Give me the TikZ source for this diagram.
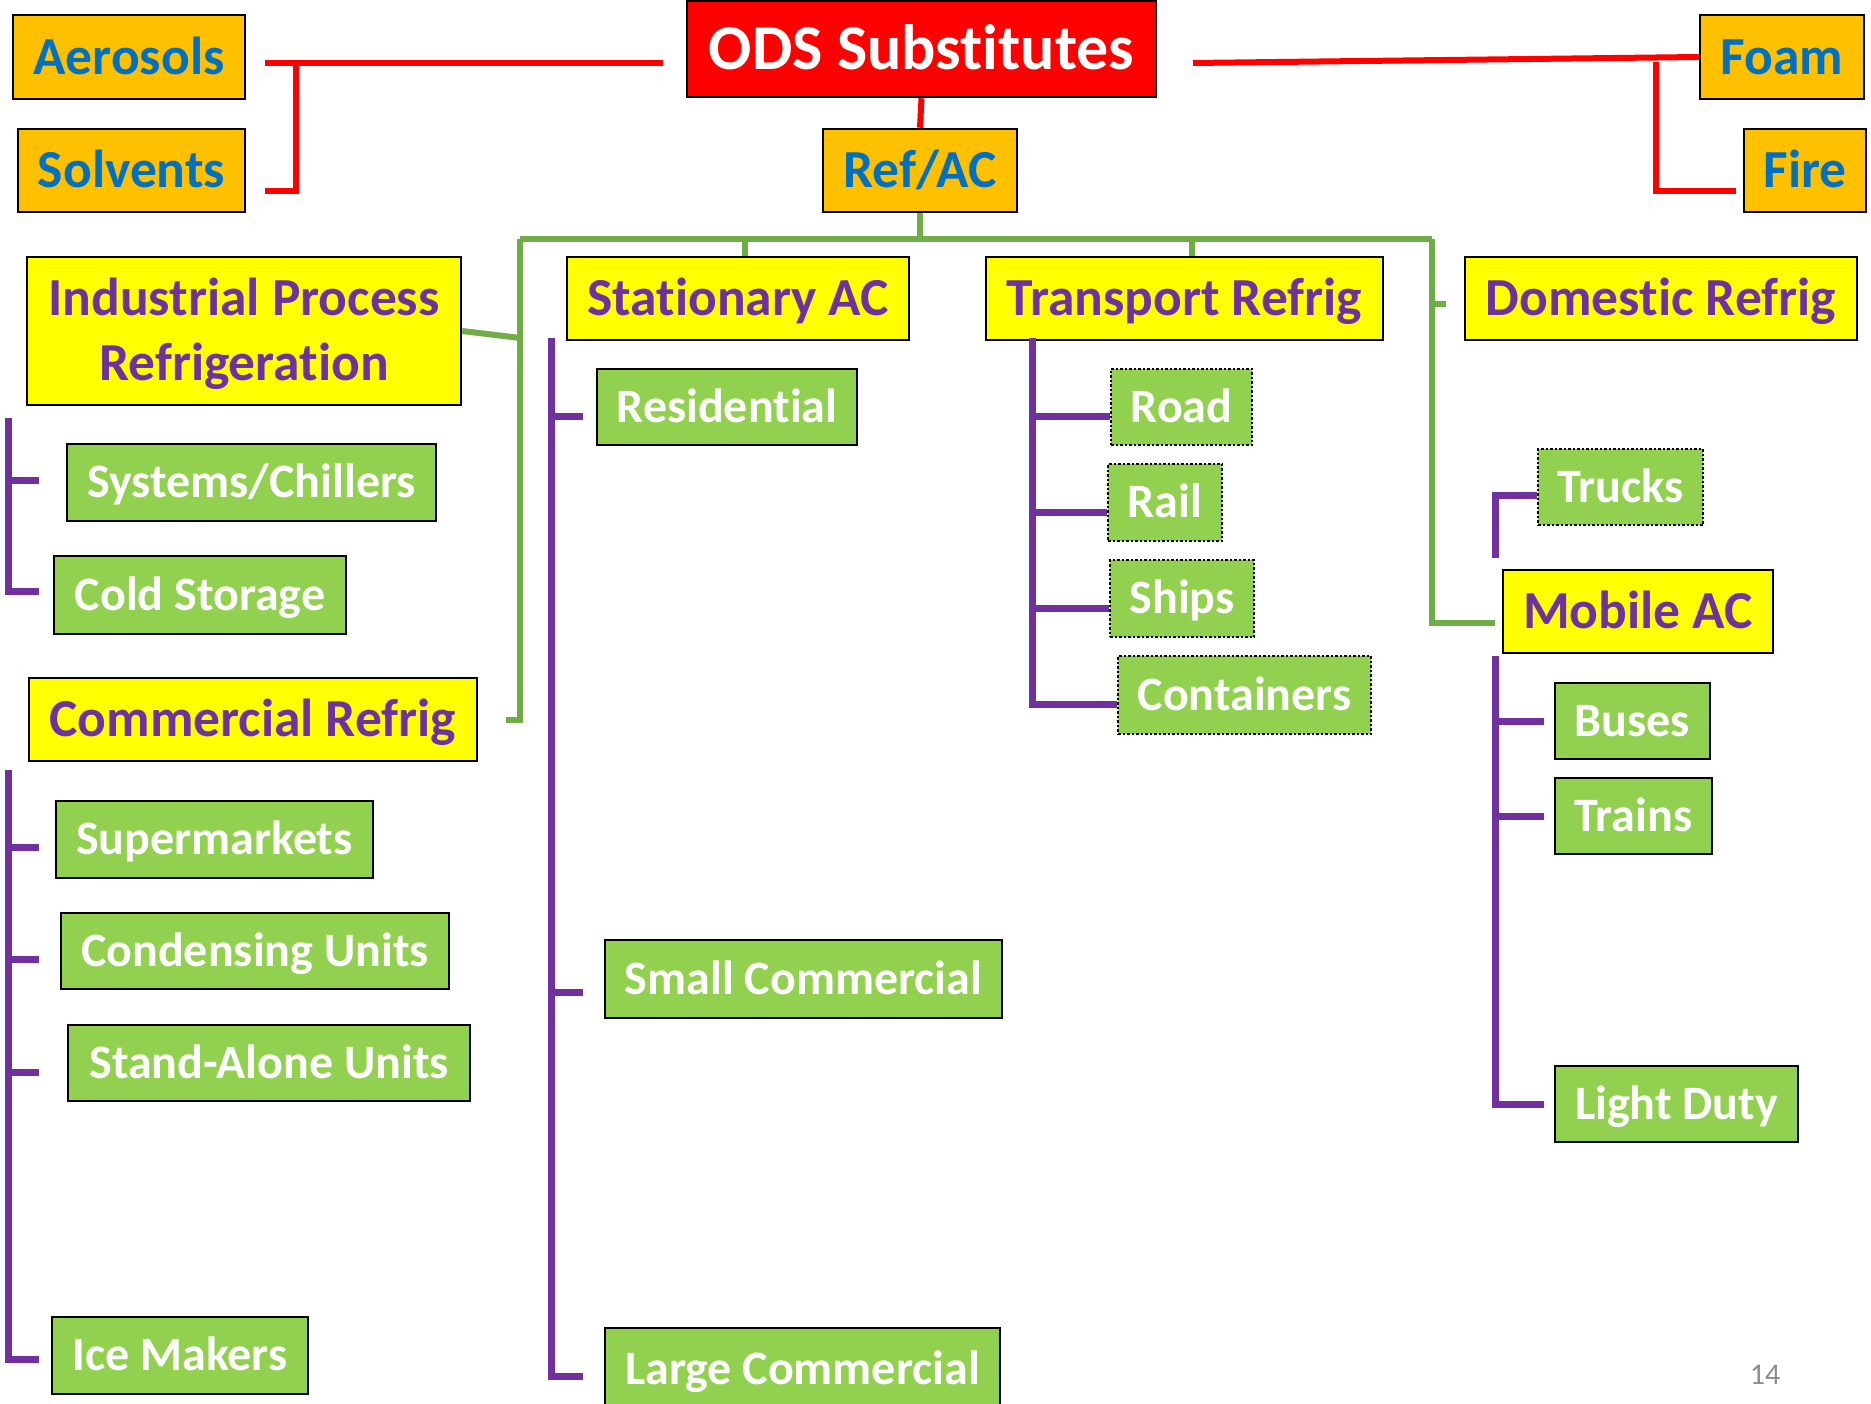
\documentclass[tikz,border=0pt]{standalone}
\usepackage{fontspec}
\setmainfont{Carlito}[Ligatures=NoCommon]
\definecolor{orgfill}{HTML}{FFC000}
\definecolor{bluetxt}{HTML}{0070C0}
\definecolor{redc}{HTML}{FF0000}
\definecolor{yel}{HTML}{FFFF00}
\definecolor{purp}{HTML}{7030A0}
\definecolor{grnfill}{HTML}{92D050}
\definecolor{grnline}{HTML}{70AD47}
\definecolor{pgray}{HTML}{8C8C8C}
\tikzset{
  base/.style={draw=black, line width=2.5pt, inner sep=0pt, align=center},
  bigtxt/.style={font=\bfseries\fontsize{53.5}{65}\selectfont, text height=47.8pt, text depth=13.4pt},
  smtxt/.style={font=\bfseries\fontsize{48}{58}\selectfont, text height=42.9pt, text depth=12pt},
  orangebox/.style={base, bigtxt, fill=orgfill, text=bluetxt},
  redbox/.style={base, fill=redc, text=white, font=\bfseries\fontsize{64}{77}\selectfont, text height=57.2pt, text depth=16pt},
  yelbox/.style={base, bigtxt, fill=yel, text=purp},
  grnbox/.style={base, smtxt, fill=grnfill, text=white},
  dotbox/.style={grnbox, dash pattern=on 2.5pt off 2pt},
  redln/.style={draw=redc, line width=6pt},
  grnln/.style={draw=grnline, line width=6pt},
  purln/.style={draw=purp, line width=7pt},
}
\begin{document}
\begin{tikzpicture}[x=1pt, y=-1pt]
\useasboundingbox (0,0) rectangle (1871,1404);
% top level
\node[orangebox, minimum width=232pt, minimum height=84pt] (aer) at (129,57) {Aerosols};
\node[orangebox, minimum width=227pt, minimum height=83pt] (sol) at (131.5,170.5) {Solvents};
\node[redbox, minimum width=469pt, minimum height=96pt] (ods) at (921.5,49) {ODS Substitutes};
\node[orangebox, minimum width=164pt, minimum height=84pt] (foam) at (1782,57) {Foam};
\node[orangebox, minimum width=122pt, minimum height=83pt] (fire) at (1805,170.5) {Fire};
\node[orangebox, minimum width=194pt, minimum height=83pt] (refac) at (920,170.5) {Ref/AC};
% second level
\node[yelbox, text height=112.5pt, text depth=13pt, minimum width=434pt, minimum height=148pt] (ipr) at (244,331) {Industrial Process\\Refrigeration};
\node[yelbox, minimum width=342pt, minimum height=83pt] (sac) at (738,298.5) {Stationary AC};
\node[yelbox, minimum width=397pt, minimum height=83pt] (tr) at (1184.5,298.5) {Transport Refrig};
\node[yelbox, minimum width=392pt, minimum height=83pt] (dr) at (1661,298.5) {Domestic Refrig};
\node[yelbox, minimum width=448pt, minimum height=83pt] (cr) at (253,719.5) {Commercial Refrig};
\node[yelbox, minimum width=270pt, minimum height=83pt] (mac) at (1638,611.5) {Mobile AC};
% leaves
\node[grnbox, minimum width=369pt, minimum height=77pt] (sys) at (251.5,482.5) {Systems/Chillers};
\node[grnbox, minimum width=292pt, minimum height=78pt] (cold) at (200,595) {Cold Storage};
\node[grnbox, minimum width=317pt, minimum height=77pt] (sup) at (214.5,839.5) {Supermarkets};
\node[grnbox, minimum width=388pt, minimum height=76pt] (cond) at (255,951) {Condensing Units};
\node[grnbox, minimum width=402pt, minimum height=76pt] (sau) at (269,1063) {Stand-Alone Units};
\node[grnbox, minimum width=256pt, minimum height=77pt] (ice) at (180,1355.5) {Ice Makers};
\node[grnbox, minimum width=260pt, minimum height=76pt] (res) at (727,407) {Residential};
\node[grnbox, minimum width=397pt, minimum height=78pt] (smc) at (803.5,979) {Small Commercial};
\node[grnbox, minimum width=395pt, minimum height=82pt] (lgc) at (802.5,1369) {Large Commercial};
\node[dotbox, minimum width=141pt, minimum height=76pt] (road) at (1181.5,407) {Road};
\node[dotbox, minimum width=114pt, minimum height=77pt] (rail) at (1165,502.5) {Rail};
\node[dotbox, minimum width=144pt, minimum height=77pt] (ships) at (1182,598.5) {Ships};
\node[dotbox, minimum width=253pt, minimum height=78pt] (cont) at (1244.5,695) {Containers};
\node[dotbox, minimum width=165pt, minimum height=76pt] (trucks) at (1620.5,487) {Trucks};
\node[grnbox, minimum width=155pt, minimum height=76pt] (buses) at (1632.5,721) {Buses};
\node[grnbox, minimum width=157pt, minimum height=76pt] (trains) at (1633.5,816) {Trains};
\node[grnbox, minimum width=243pt, minimum height=76pt] (ld) at (1676.5,1104) {Light Duty};
\node[text=pgray, font=\fontsize{30}{36}\selectfont] (pg) at (1765,1375) {14};
% red connectors
\coordinate (rl1) at (663,63);
\coordinate (rl2) at (265,63);
\coordinate (rl3) at (296,63);
\coordinate (rl4) at (296,191);
\coordinate (rl5) at (265,191);
\draw[redln] (rl1) -- (rl2);
\draw[redln] (rl3) -- (rl4) -- (rl5);
\coordinate (rr1) at (1193,63);
\coordinate (rr2) at (1656,62);
\coordinate (rr3) at (1656,191);
\coordinate (rr4) at (1736,191);
\draw[redln] (rr1) -- (foam.west);
\draw[redln] (rr2) -- (rr3) -- (rr4);
\draw[redln] (ods.south) -- (refac.north);
% green connectors
\coordinate (gm) at (920,239);
\coordinate (gl) at (520,239);
\coordinate (gr) at (1432,239);
\coordinate (gsac) at (745,239);
\coordinate (gtr) at (1192,239);
\coordinate (glb) at (520,720);
\coordinate (glc) at (506,720);
\coordinate (gli) at (520,338);
\coordinate (grb) at (1432,623);
\coordinate (grm) at (1495,623);
\coordinate (grd1) at (1432,304);
\coordinate (grd2) at (1446,304);
\draw[grnln] (refac.south) -- (gm);
\draw[grnln] (gl) -- (gr);
\draw[grnln] (gsac) -- (gsac |- sac.north);
\draw[grnln] (gtr) -- (gtr |- tr.north);
\draw[grnln] (gl) -- (glb) -- (glc);
\draw[grnln] (ipr.east) -- (gli);
\draw[grnln] (gr) -- (grb) -- (grm);
\draw[grnln] (grd1) -- (grd2);
% purple connectors: industrial
\draw[purln] (8,418) -- (8,591) -- (39,591);
\draw[purln] (8,480) -- (39,480);
% commercial
\draw[purln] (8,770) -- (8,1359) -- (39,1359);
\foreach \yy in {847,959,1072} \draw[purln] (8,\yy) -- (39,\yy);
% stationary AC
\draw[purln] (551,338) -- (551,1376) -- (583,1376);
\foreach \yy in {416,992} \draw[purln] (551,\yy) -- (583,\yy);
% transport
\coordinate (tp0) at (1032,338);
\coordinate (tp1) at (1032,416);
\coordinate (tp2) at (1032,512);
\coordinate (tp3) at (1032,608);
\coordinate (tp4) at (1032,704);
\draw[purln] (tp0) -- (tp4) -- (tp4 -| cont.west);
\draw[purln] (tp1) -- (tp1 -| road.west);
\draw[purln] (tp2) -- (tp2 -| rail.west);
\draw[purln] (tp3) -- (tp3 -| ships.west);
% trucks
\coordinate (tk0) at (1495,558);
\coordinate (tk1) at (1495,495);
\draw[purln] (tk0) -- (tk1) -- (tk1 -| trucks.west);
% mobile AC
\draw[purln] (1495,656) -- (1495,1104) -- (1544,1104);
\foreach \yy in {721,816} \draw[purln] (1495,\yy) -- (1544,\yy);
\end{tikzpicture}
\end{document}
